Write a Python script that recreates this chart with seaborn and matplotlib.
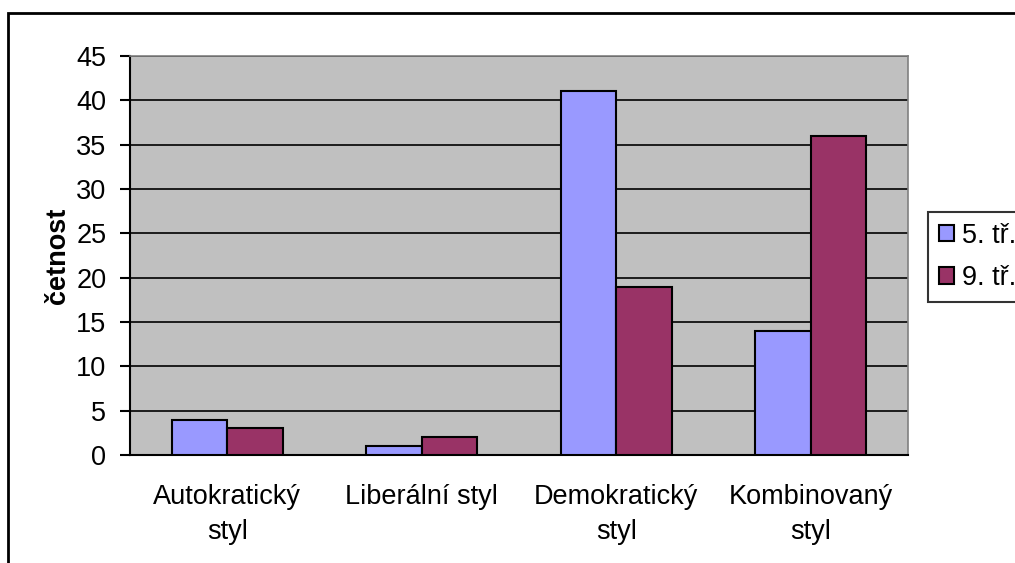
import pandas as pd
import matplotlib.pyplot as plt
import seaborn as sns
from matplotlib.patches import Rectangle

# data
categories = ["Autokratický\nstyl", "Liberální styl", "Demokratický\nstyl", "Kombinovaný\nstyl"]
grade5 = [4, 1, 41, 14]
grade9 = [3, 2, 19, 36]
series_names = ["5. tř.", "9. tř."]
colors = ["#9999FF", "#993366"]

df = pd.DataFrame({
    "styl": categories * 2,
    "trida": [series_names[0]] * 4 + [series_names[1]] * 4,
    "cetnost": grade5 + grade9,
})

sns.set_theme(style="white")
plt.rcParams["font.family"] = ["Liberation Sans", "DejaVu Sans"]
plt.rcParams["text.color"] = "black"
plt.rcParams["xtick.color"] = "black"
plt.rcParams["ytick.color"] = "black"
plt.rcParams["axes.labelcolor"] = "black"

FS = 19.5

fig = plt.figure(figsize=(10.15, 5.63), dpi=100)
ax = fig.add_axes([130 / 1015, 1 - 455 / 563, 778 / 1015, 399 / 563])
ax.set_facecolor("#C0C0C0")

sns.barplot(data=df, x="styl", y="cetnost", hue="trida", palette=colors,
            width=0.57, edgecolor="black", linewidth=1.5, saturation=1,
            ax=ax, zorder=3)

ax.set_ylim(0, 45)
ax.set_xlim(-0.5, 3.5)
ax.set_yticks(range(0, 46, 5))
ax.yaxis.grid(True, color="black", linewidth=1.2, zorder=1)
ax.set_axisbelow(True)

# x ticks sit between categories
ax.set_xticks([0, 1, 2, 3])
ax.set_xticklabels(categories, fontsize=FS, linespacing=1.45)
ax.set_xticks([-0.5, 0.5, 1.5, 2.5, 3.5], minor=True)
ax.tick_params(axis="x", which="major", length=0, pad=21)
ax.tick_params(axis="x", which="minor", length=7, width=1.5, color="black", direction="out")
ax.tick_params(axis="y", labelsize=FS, length=7, width=1.5, color="black", direction="out", pad=10, left=True)

for s in ["left", "bottom"]:
    ax.spines[s].set_color("black")
    ax.spines[s].set_linewidth(1.5)
for s in ["top", "right"]:
    ax.spines[s].set_color("#808080")
    ax.spines[s].set_linewidth(1.2)

ax.set_xlabel("")
ax.set_ylabel("četnost", fontsize=FS, fontweight="bold", labelpad=4)

ax.legend(title=None, loc="upper left", bbox_to_anchor=(928 / 1015, 1 - 212 / 563),
          bbox_transform=fig.transFigure, fontsize=FS, frameon=True, fancybox=False,
          edgecolor="black", handlelength=0.55, handleheight=0.55, handletextpad=0.3,
          borderpad=0.4, labelspacing=0.6, borderaxespad=0)
ax.get_legend().get_frame().set_linewidth(1.5)

# outer chart border (clipped at right and bottom)
fig.patches.append(Rectangle((8 / 1015, -0.1), 1.1, 1 - 13 / 563 + 0.1,
                             transform=fig.transFigure, fill=False,
                             edgecolor="black", linewidth=2))

fig.savefig("out.png", dpi=100)
